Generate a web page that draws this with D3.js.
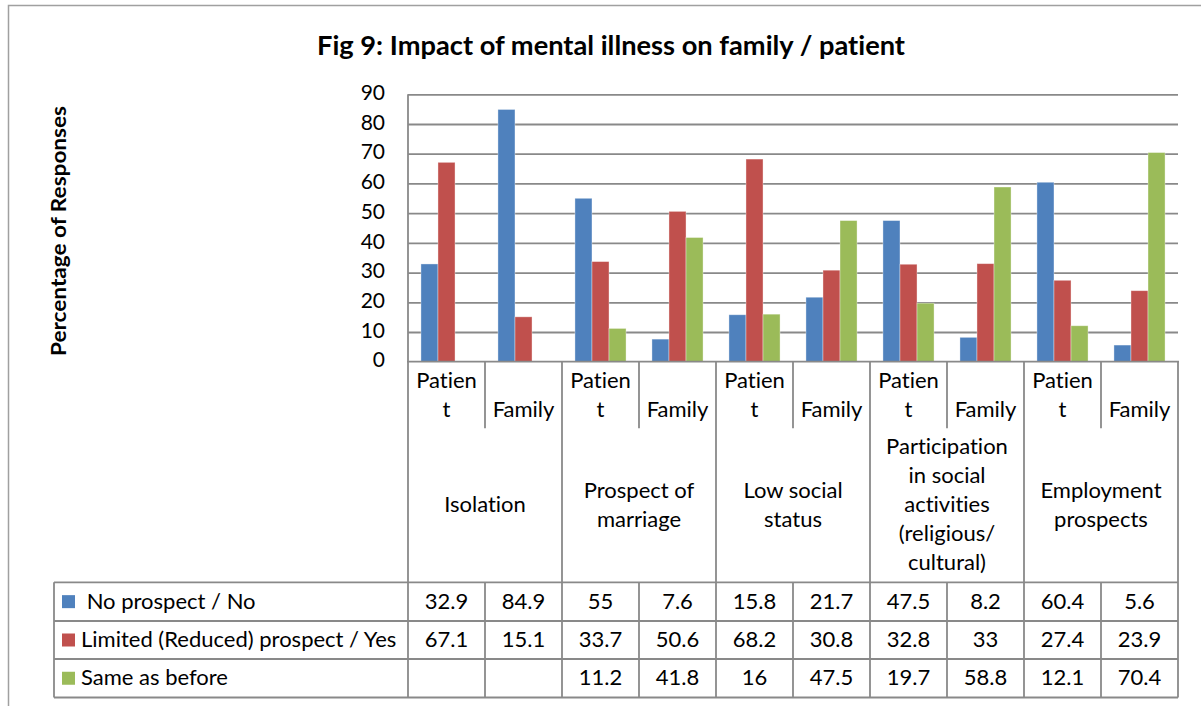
<!DOCTYPE html>
<html><head><meta charset="utf-8">
<script src="https://cdn.jsdelivr.net/npm/d3@7"></script>
<style>
html,body{margin:0;padding:0;background:#fff;}
svg text{font-family:Lato,"Open Sans",sans-serif;fill:#000;font-variant-ligatures:none;font-feature-settings:"liga" 0,"clig" 0,"dlig" 0;}
</style></head>
<body><svg id="chart" width="1201" height="706"></svg>
<script>
const title = "Fig 9: Impact of mental illness on family / patient";
const yAxisTitle = "Percentage of Responses";
const categoryLines = [
  ["Isolation"],
  ["Prospect of", "marriage"],
  ["Low social", "status"],
  ["Participation", "in social", "activities", "(religious/", "cultural)"],
  ["Employment", "prospects"]
];
const subLabelLines = [["Patien", "t"], ["Family"]];
const seriesNames = [" No prospect / No", "Limited (Reduced) prospect / Yes", "Same as before"];
const seriesColors = ["#4F81BD", "#C0504D", "#9BBB59"];
const noProspect = [32.9, 84.9, 55, 7.6, 15.8, 21.7, 47.5, 8.2, 60.4, 5.6];
const limitedProspect = [67.1, 15.1, 33.7, 50.6, 68.2, 30.8, 32.8, 33, 27.4, 23.9];
const sameAsBefore = [null, null, 11.2, 41.8, 16, 47.5, 19.7, 58.8, 12.1, 70.4];
const yTicks = [0, 10, 20, 30, 40, 50, 60, 70, 80, 90];

const series = [noProspect, limitedProspect, sameAsBefore];
const columns = [];
categoryLines.forEach((c, ci) => subLabelLines.forEach((s, si) => columns.push(ci * 2 + si)));

const svg = d3.select("#chart");
const gridColor = "#898989";
const L = 408, R = 1178, T = 94.3, B = 361.7;
const rowSub = 428.3, rowCat = 582.3, rowEnd = 697.5;
const legendLeft = 54;
const legendRows = [rowCat, 621, 659, rowEnd];
const dy = -1.5;

// outer frame
svg.append("path").attr("d", `M8.5,706 V5.5 H1201`).attr("fill", "none")
  .attr("stroke", "#a0a0a0").attr("stroke-width", 1.5);

const x = d3.scaleBand().domain(columns).range([L, R]).padding(0);
const xInner = d3.scaleBand().domain([0, 1, 2]).range([0, x.bandwidth()]).paddingInner(0).paddingOuter(0.76);
const y = d3.scaleLinear().domain([0, 90]).range([B, T]);

// title
svg.append("text").attr("x", 611).attr("y", 44).attr("text-anchor", "middle")
  .attr("dominant-baseline", "central").style("font-weight", "bold").style("font-size", "27px")
  .attr("textLength", 588).attr("lengthAdjust", "spacingAndGlyphs").text(title);

// y axis title
svg.append("text").attr("transform", `translate(57,${(T + B) / 2 + 3}) rotate(-90)`)
  .attr("text-anchor", "middle").attr("dominant-baseline", "central")
  .style("font-weight", "bold").style("font-size", "21px")
  .attr("textLength", 250).attr("lengthAdjust", "spacingAndGlyphs").text(yAxisTitle);

// gridlines
const grid = svg.append("g").attr("transform", `translate(${L},0)`)
  .call(d3.axisLeft(y).tickValues(yTicks.filter(d => d > 0)).tickSize(-(R - L)).tickFormat(""));
grid.select(".domain").remove();
grid.selectAll("line").attr("stroke", gridColor).attr("stroke-width", 1.8);

// y tick labels
const yax = svg.append("g").attr("transform", `translate(${L - 23},${dy})`)
  .call(d3.axisLeft(y).tickValues(yTicks).tickSize(0).tickPadding(0));
yax.select(".domain").remove();
yax.selectAll("text").style("font-size", "21px").style("font-family", "Lato, sans-serif").attr("fill", "#000");

// bars
series.forEach((vals, si) => {
  svg.append("g").selectAll("rect").data(columns.filter(c => vals[c] != null)).join("rect")
    .attr("x", c => x(c) + xInner(si))
    .attr("width", xInner.bandwidth())
    .attr("y", c => y(vals[c]))
    .attr("height", c => y(0) - y(vals[c]))
    .attr("fill", seriesColors[si])
    .attr("stroke", "rgba(255,255,255,0.45)").attr("stroke-width", 0.8);
});

// table lines
const tl = svg.append("g").attr("stroke", gridColor).attr("stroke-width", 1.8).attr("fill", "none");
tl.append("line").attr("x1", L - 1).attr("x2", R + 1).attr("y1", B).attr("y2", B);
tl.append("line").attr("x1", L).attr("x2", L).attr("y1", T).attr("y2", rowEnd);
columns.forEach(c => {
  const xr = x(c) + x.bandwidth();
  const isGroupEnd = c % 2 === 1;
  if (isGroupEnd) {
    tl.append("line").attr("x1", xr).attr("x2", xr).attr("y1", B).attr("y2", rowEnd);
  } else {
    tl.append("line").attr("x1", xr).attr("x2", xr).attr("y1", B).attr("y2", rowSub);
    tl.append("line").attr("x1", xr).attr("x2", xr).attr("y1", rowCat).attr("y2", rowEnd);
  }
});
legendRows.forEach(ry => tl.append("line").attr("x1", legendLeft).attr("x2", R).attr("y1", ry).attr("y2", ry));
tl.append("line").attr("x1", legendLeft).attr("x2", legendLeft).attr("y1", rowCat).attr("y2", rowEnd);

const lineH = 29;
const fs = "22px";
// sub labels (bottom aligned)
columns.forEach(c => {
  const lines = subLabelLines[c % 2];
  const cx = x(c) + x.bandwidth() / 2;
  lines.forEach((ln, i) => {
    svg.append("text").attr("x", cx).attr("y", rowSub - 18 + dy - (lines.length - 1 - i) * lineH)
      .attr("text-anchor", "middle").attr("dominant-baseline", "central")
      .style("font-size", fs).text(ln);
  });
});
// category labels (centered)
categoryLines.forEach((lines, ci) => {
  const cx = x(ci * 2) + x.bandwidth();
  const cy = (rowSub + rowCat) / 2 + dy;
  lines.forEach((ln, i) => {
    svg.append("text").attr("x", cx).attr("y", cy + (i - (lines.length - 1) / 2) * lineH)
      .attr("text-anchor", "middle").attr("dominant-baseline", "central")
      .style("font-size", fs).text(ln);
  });
});
// legend rows with values
series.forEach((vals, si) => {
  const cy = (legendRows[si] + legendRows[si + 1]) / 2;
  svg.append("rect").attr("x", 62).attr("y", cy - 6.5).attr("width", 13).attr("height", 13).attr("fill", seriesColors[si]);
  svg.append("text").attr("x", 81).attr("y", cy + dy).attr("dominant-baseline", "central")
    .style("font-size", fs).style("white-space", "pre").text(seriesNames[si]);
  columns.forEach(c => {
    if (vals[c] == null) return;
    svg.append("text").attr("x", x(c) + x.bandwidth() / 2).attr("y", cy + dy)
      .attr("text-anchor", "middle").attr("dominant-baseline", "central")
      .style("font-size", fs).text(vals[c]);
  });
});
</script></body></html>
